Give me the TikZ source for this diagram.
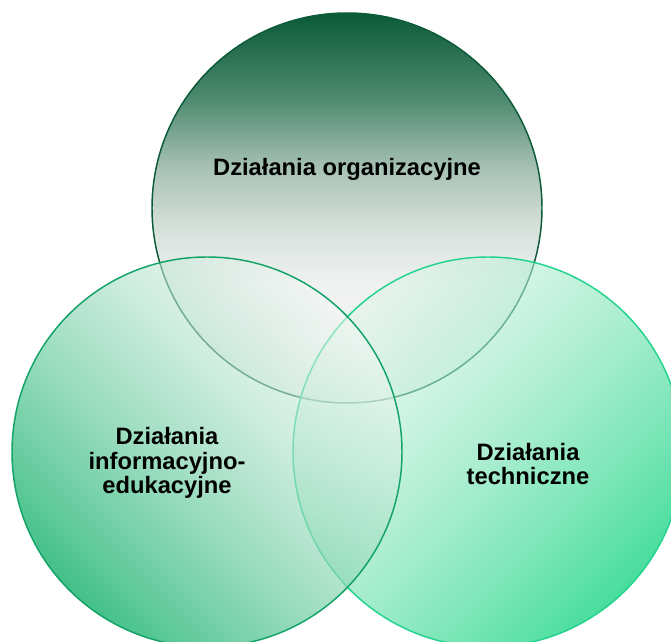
\documentclass[tikz,border=0pt]{standalone}
\usepackage{fontspec}
\setmainfont{Liberation Sans}
\usepackage{xcolor}
\usetikzlibrary{fadings}
\definecolor{orgdark}{HTML}{0B5A38}
\definecolor{orgA}{HTML}{4E8A70}
\definecolor{orgB}{HTML}{A9C2B6}
\definecolor{orgC}{HTML}{D8E2DD}
\definecolor{orgD}{HTML}{F0F2F1}
\definecolor{orgE}{HTML}{F5F6F5}
\definecolor{infdark}{HTML}{22B574}
\definecolor{inflight}{HTML}{F4F7F5}
\definecolor{infline}{HTML}{13A366}
\definecolor{techdark}{HTML}{28D78C}
\definecolor{techlight}{HTML}{DDF4E8}
\definecolor{techline}{HTML}{22D48C}

\pgfdeclareverticalshading{orgshade}{100bp}{color(0bp)=(orgE); color(25bp)=(orgE);
  color(40bp)=(orgD); color(47bp)=(orgC); color(55bp)=(orgB); color(64bp)=(orgA);
  color(75bp)=(orgdark); color(100bp)=(orgdark)}
\tikzfading[name=vennfade, top color=transparent!50, bottom color=transparent!15]

\begin{document}
\begin{tikzpicture}[
    x=0.75pt, y=0.75pt,
    every node/.style={font=\fontsize{17.8}{18.6}\selectfont\bfseries, align=center},
    rim/.style={line width=1.1pt}
  ]
  \useasboundingbox (0,0) rectangle (671,642);
  \clip (0,0) rectangle (671,642);

  % top circle
  \shade[shading=orgshade] (347,434) circle[radius=195];
  \draw[rim, orgdark] (347,434) circle[radius=195];

  % right circle
  \shade[bottom color=techdark, top color=techlight, shading angle=45,
    path fading=vennfade, fading angle=45] (488,190) circle[radius=195];
  \draw[rim, techline] (488,190) circle[radius=195];

  % left circle
  \shade[bottom color=infdark, top color=inflight, shading angle=-45,
    path fading=vennfade, fading angle=-45] (207,190) circle[radius=195];
  \draw[rim, infline] (207,190) circle[radius=195];

  \node (orgtxt)  at (347,473) {Działania organizacyjne};
  \node (inftxt)  at (167,179) {Działania\\informacyjno-\\edukacyjne};
  \node (techtxt) at (528,178) {Działania\\techniczne};
\end{tikzpicture}
\end{document}
